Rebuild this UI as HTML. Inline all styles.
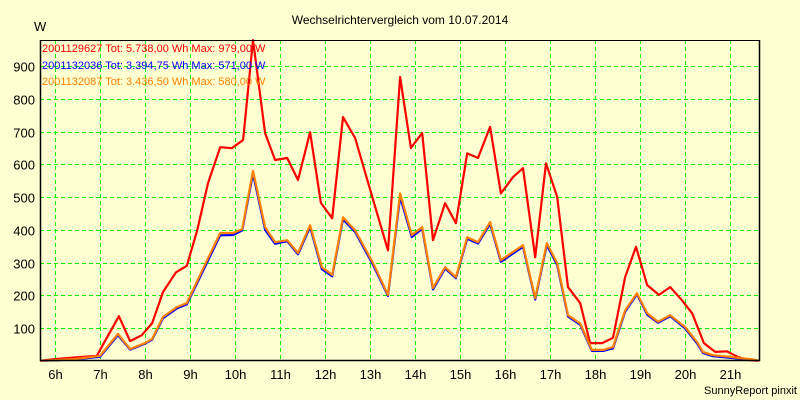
<!DOCTYPE html>
<html><head><meta charset="utf-8"><style>
html,body{margin:0;padding:0;background:#ffffd2;}
svg{display:block;font-family:"Liberation Sans",sans-serif;}
</style></head><body>
<svg id="chart" width="800" height="400">
<rect width="800" height="400" fill="#ffffd2"/>
<text x="400" y="24" text-anchor="middle" font-size="12" fill="#000">Wechselrichtervergleich vom 10.07.2014</text>
<text x="34" y="31" font-size="13" fill="#000">W</text>
<g id="grid"></g>
<g id="series"></g>
<g id="axes"></g>
<g font-size="11">
<text x="42" y="52" fill="#ff0000">2001129627 Tot: 5.738,00 Wh Max: 979,00 W</text>
<text x="42" y="69" fill="#0000ff">2001132036 Tot: 3.394,75 Wh Max: 571,00 W</text>
<text x="42" y="85" fill="#ff8000">2001132087 Tot: 3.436,50 Wh Max: 580,00 W</text>
</g>
<text x="797" y="394" text-anchor="end" font-size="11" fill="#000">SunnyReport pinxit</text>
</svg>
<script>
const yTicks = [100,200,300,400,500,600,700,800,900];
const xTicks = [6,7,8,9,10,11,12,13,14,15,16,17,18,19,20,21];
const redTimes = [5.67,6.0,6.44,6.93,7.42,7.67,7.93,8.16,8.4,8.69,8.93,9.16,9.4,9.67,9.93,10.18,10.4,10.67,10.89,11.16,11.4,11.67,11.91,12.16,12.4,12.67,13.09,13.4,13.67,13.91,14.16,14.4,14.67,14.91,15.16,15.4,15.67,15.91,16.18,16.4,16.67,16.91,17.16,17.4,17.67,17.89,18.16,18.4,18.67,18.91,19.16,19.42,19.67,19.93,20.16,20.42,20.67,20.93,21.18,21.42,21.64];
const redValues = [0,5,10,15,136,60,78,115,210,270,290,398,542,652,649,674,979,695,613,619,552,698,482,435,744,680,481,337,866,650,695,368,481,420,633,619,714,511,561,588,316,603,500,225,176,54,54,70,256,348,231,201,225,185,145,54,27,29,11,2,0];
const otherTimes = [5.67,6,6.44,7.0,7.4,7.67,8.0,8.16,8.4,8.71,8.93,9.38,9.67,9.96,10.16,10.4,10.67,10.89,11.16,11.4,11.67,11.93,12.16,12.4,12.67,13.07,13.4,13.67,13.93,14.16,14.4,14.67,14.91,15.16,15.4,15.67,15.91,16.4,16.67,16.93,17.16,17.4,17.67,17.93,18.18,18.4,18.67,18.93,19.16,19.4,19.67,20.0,20.27,20.4,20.62,21.0,21.22,21.51,21.64];
const blueValues = [0,1,4,12,78,34,52,65,130,160,172,300,383,384,398,571,400,357,365,325,408,280,258,432,393,292,198,500,378,403,218,282,252,372,358,418,302,348,187,353,292,135,110,30,30,38,150,203,141,116,136,99,53,24,14,9,6,3,0];
const orangeValues = [0,2,5,15,82,36,54,67,134,164,176,307,390,390,402,580,408,362,368,329,414,286,262,438,398,298,201,511,384,408,222,286,255,377,362,423,307,353,191,359,298,139,114,33,33,42,154,206,145,119,139,103,57,27,17,12,8,4,0];

const NS='http://www.w3.org/2000/svg';
const L=40,R=759,T=40,B=360;
const xs=h=>55+(h-6)*45;
const ys=v=>360.75-v*0.3275;
function mk(tag,attrs,parent){const e=document.createElementNS(NS,tag);for(const k in attrs)e.setAttribute(k,attrs[k]);parent.appendChild(e);return e;}
const grid=document.getElementById('grid'),axes=document.getElementById('axes'),ser=document.getElementById('series');
yTicks.forEach(v=>{
  const y=Math.round(ys(v))+0.5;
  const ln=mk('line',{x1:L,x2:R,y1:y,y2:y,stroke:'#00ee00','stroke-dasharray':'4,3'},grid);
  
  
  const t=mk('text',{x:35,y:y+5,'text-anchor':'end','font-size':'13',fill:'#000'},axes);
  t.textContent=v;
  
  
});
xTicks.forEach(h=>{
  const x=Math.round(xs(h))+0.5;
  const ln=mk('line',{x1:x,x2:x,y1:T,y2:B,stroke:'#00ee00','stroke-dasharray':'4,3'},grid);
  
  
  const t=mk('text',{x:x,y:379,'text-anchor':'middle','font-size':'13',fill:'#000'},axes);
  t.textContent=h+'h';
  
  
});
const frame=mk('path',{d:`M${L+.5},${T} V${B+.5} H${R+.5} V${T}`,fill:'none',stroke:'#000','stroke-width':'1.5'},axes);


const topLine=mk('line',{x1:L,x2:R,y1:T+.5,y2:T+.5,stroke:'#000'},axes);


function drawLine(times,vals,color,name){
  const d=times.map((h,i)=>(i?'L':'M')+xs(h).toFixed(1)+','+ys(vals[i]).toFixed(1)).join(' ');
  const p=mk('path',{d:d,fill:'none',stroke:color,'stroke-width':'2.2','stroke-linejoin':'round'},ser);
  
  
}
drawLine(redTimes,redValues,'#ff0000','series-line-2001129627');
drawLine(otherTimes,blueValues,'#0000ff','series-line-2001132036');
drawLine(otherTimes,orangeValues,'#ff8000','series-line-2001132087');
</script>
</body></html>
